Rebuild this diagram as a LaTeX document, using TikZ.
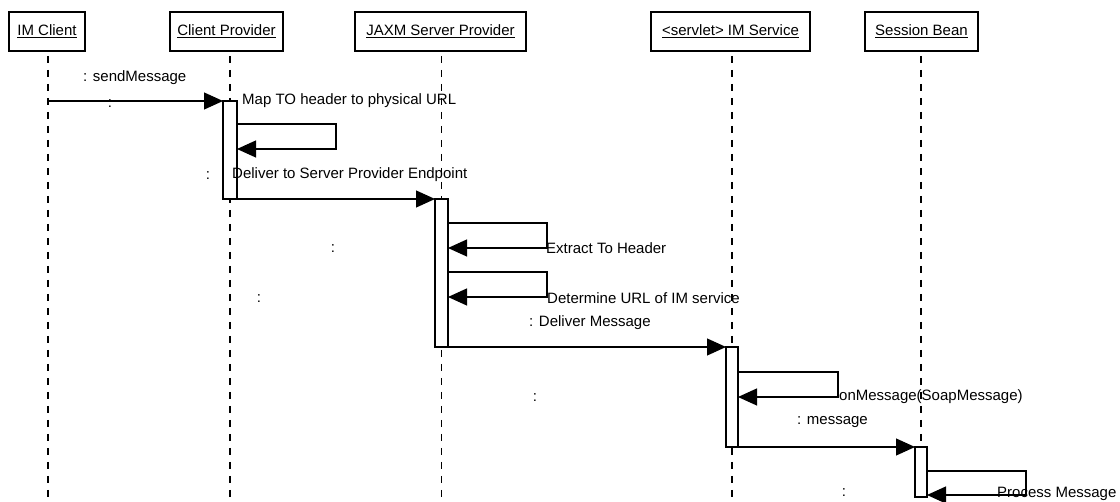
\documentclass[tikz,border=0pt]{standalone}
\usepackage{fontspec}
\setmainfont{Liberation Sans}
\usetikzlibrary{arrows.meta}
\begin{document}
\begin{tikzpicture}[x=1pt,y=-1pt,
  every node/.style={font=\fontsize{15}{18}\selectfont, inner sep=0pt},
  head/.style={draw, line width=1.2pt, minimum height=39pt, fill=white},
  life/.style={line width=1.2pt, dash pattern=on 7pt off 7pt},
  actbar/.style={draw, line width=1.2pt, fill=white, minimum width=13pt, anchor=north, outer sep=0pt},
  msg/.style={line width=1.1pt, -{Triangle[length=19pt,width=17pt]}},
  lab/.style={anchor=west},
  dot/.style={anchor=center}]
\useasboundingbox (0,0) rectangle (1120,502);

% participants
\node[head, minimum width=76pt]  (imc) at (47,31.5)    {\underline{IM Client}};
\node[head, minimum width=113pt] (cp)  at (226.5,31.5) {\underline{Client Provider}};
\node[head, minimum width=171pt] (jx)  at (440.5,31.5) {\underline{JAXM Server Provider}};
\node[head, minimum width=159pt] (ims) at (730.5,31.5) {\underline{<servlet> IM Service}};
\node[head, minimum width=113pt] (sb)  at (921.5,31.5) {\underline{Session Bean}};

% lifelines
\coordinate (imcT) at (48,56);  \coordinate (imcB) at (48,502);
\coordinate (cpT)  at (230,56); \coordinate (cpB)  at (230,502);
\coordinate (jxT)  at (441.5,56); \coordinate (jxB) at (441.5,502);
\coordinate (imsT) at (732,56); \coordinate (imsB) at (732,502);
\coordinate (sbT)  at (921,56); \coordinate (sbB)  at (921,502);
\draw[life] (imcT) -- (imcB);
\draw[life] (cpT) -- (cpB);
\draw[life] (jxT) -- (jxB);
\draw[life] (imsT) -- (imsB);
\draw[life] (sbT) -- (sbB);

% activation bars
\node[actbar, minimum width=14pt, minimum height=98pt]  (cpb)  at (230,101) {};
\node[actbar, minimum height=148pt] (jxb)  at (441.5,199) {};
\node[actbar, minimum width=12pt, minimum height=100pt] (imsb) at (732,347) {};
\node[actbar, minimum width=12pt, minimum height=50pt]  (sbb)  at (921,447) {};

% messages
\draw[msg] (imcT |- cpb.north) -- (cpb.north west);
\draw[msg] ([yshift=-23pt]cpb.north east) -- ++(99,0) -- ++(0,25) -- ++(-99,0);
\draw[msg] (cpb.south east) -- (jxb.north west);
\draw[msg] ([yshift=-24pt]jxb.north east) -- ++(99,0) -- ++(0,25) -- ++(-99,0);
\draw[msg] ([yshift=-73pt]jxb.north east) -- ++(99,0) -- ++(0,25) -- ++(-99,0);
\draw[msg] (jxb.south east) -- (imsb.north west);
\draw[msg] ([yshift=-25pt]imsb.north east) -- ++(100,0) -- ++(0,25) -- ++(-100,0);
\draw[msg] (imsb.south east) -- (sbb.north west);
\draw[msg] ([yshift=-24pt]sbb.north east) -- ++(99,0) -- ++(0,24) -- ++(-99,0);

% labels
\node[lab] (l1) at (83,78)   {: sendMessage};
\node[lab] (l2) at (242,101) {Map TO header to physical URL};
\node[lab] (l3) at (232,175) {Deliver to Server Provider Endpoint};
\node[lab] (l4) at (546,248) {Extract To Header};
\node[lab] (l5) at (547,298) {Determine URL of IM service};
\node[lab] (l6) at (529,323) {: Deliver Message};
\node[lab] (l7) at (839,397) {onMessage(SoapMessage)};
\node[lab] (l8) at (797,422) {: message};
\node[lab] (l9) at (997,494) {Process Message};

% loose colons
\node[dot] (c1) at (110,104) {:};
\node[dot] (c2) at (208,176) {:};
\node[dot] (c3) at (333,249) {:};
\node[dot] (c4) at (259,299) {:};
\node[dot] (c5) at (535,398) {:};
\node[dot] (c6) at (844,493) {:};
\end{tikzpicture}
\end{document}
